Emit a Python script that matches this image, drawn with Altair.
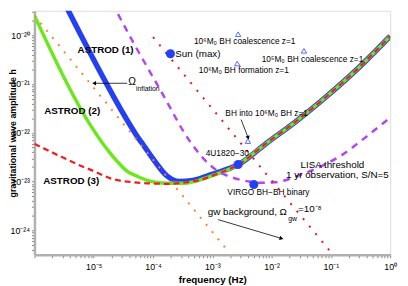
import altair as alt
import pandas as pd

# ---------------- data (log10 f [Hz], log10 h) ----------------
astrod1_logf = [-5.495, -4.353, -4.270, -4.187, -3.988, -3.773, -3.558, -3.326, -3.065, -2.813,
                -2.565, -2.084, -1.571, -1.124, -0.545, 0.0]
astrod1_logh = [-19.337, -21.91, -22.07, -22.21, -22.553, -22.874, -22.995, -22.975, -22.874, -22.774,
                -22.653, -22.211, -21.749, -21.307, -20.683, -20.02]

astrod2_logf = [-6.0, -5.0, -4.767, -4.601, -4.435, -4.270, -4.055, -3.773, -3.492, -3.230, -2.945,
                -2.565, -2.084, -1.571, -1.124, -0.545, 0.0]
astrod2_logh = [-19.60, -21.95, -22.35, -22.59, -22.79, -22.89, -22.99, -23.035, -23.035, -22.975, -22.854,
                -22.653, -22.211, -21.749, -21.307, -20.683, -20.02]

astrod3_logf = [-6.0, -5.545, -5.263, -4.982, -4.717, -4.320, -4.104, -3.773, -3.442, -3.230, -2.945,
                -2.565, -2.084, -1.571, -1.124, -0.545, 0.0]
astrod3_logh = [-22.227, -22.492, -22.653, -22.794, -22.935, -23.015, -23.035, -23.045, -23.015, -22.975, -22.854,
                -22.653, -22.211, -21.749, -21.307, -20.683, -20.02]

lisa_logf = [-4.692, -4.336, -3.856, -3.392, -3.161, -2.945, -2.664, -2.399, -2.167, -1.952, -1.538,
             -1.141, -0.810, -0.478, 0.0]
lisa_logh = [-19.337, -20.141, -21.166, -22.151, -22.513, -22.754, -22.915, -22.995, -23.025, -23.015, -22.874,
             -22.673, -22.452, -22.151, -21.688]

inflation_logf = [-6.0, -2.71]
inflation_logh = [-19.60, -24.46]

gwbg_logf = [-4.0, -0.99]
gwbg_logh = [-20.04, -24.46]

source_names = ["Sun (max)", "4U1820-30", "VIRGO BH-BH binary"]
source_logf = [-3.707, -2.565, -2.30]
source_logh = [-20.38, -22.65, -23.06]

bh_names = ["1e6 coalescence", "1e5 coalescence", "1e6 formation", "BH into 1e6"]
bh_logf = [-2.565, -1.455, -2.58, -2.40]
bh_logh = [-19.98, -20.32, -20.58, -22.17]

x_tick_exps = [-5, -4, -3, -2, -1, 0]
x_tick_labels = ["10⁻⁵", "10⁻⁴", "10⁻³", "10⁻²", "10⁻¹", "10⁰"]
y_tick_exps = [-24, -23, -22, -21, -20]
y_tick_labels = ["10⁻²⁴", "10⁻²³", "10⁻²²", "10⁻²¹", "10⁻²⁰"]

# annotations: text, log f, log h, font size, weight, align
ann_text = ["ASTROD (1)", "ASTROD (2)", "ASTROD (3)",
            "Ω", "inflation", "Sun (max)",
            "10⁶M₀ BH coalescence z=1", "10⁵M₀ BH coalescence z=1", "10⁶M₀ BH formation z=1",
            "BH into 10⁶M₀ BH z=1", "4U1820−30", "VIRGO BH−BH binary",
            "LISA threshold", "1 yr observation, S/N=5",
            "gw background, Ω", "gw", "=10⁻⁸"]
ann_logf = [-4.80, -5.363, -5.379,
            -4.419, -4.287, -3.624,
            -3.310, -2.167, -3.227,
            -2.780, -2.747, -2.747,
            -0.975, -0.890,
            -3.078, -1.720, -1.555]
ann_logh = [-20.30, -21.548, -22.995,
            -20.965, -21.106, -20.382,
            -20.12, -20.482, -20.724,
            -21.588, -22.412, -23.216,
            -22.653, -22.874,
            -23.618, -23.759, -23.558]
ann_size = [10, 10, 10, 10.5, 7, 10, 8.5, 8.5, 8.5, 8.5, 8.5, 8.5, 10, 10, 10, 7, 10]
ann_bold = [True, True, True] + [False] * 14
ann_center = [True, True, True, False, False, False, False, False, False,
              False, True, False, True, True, False, False, False]

# arrows: start -> tip (log f, log h), head angle
arrow_logf = [-4.435, -2.515, -2.904]
arrow_logh = [-20.985, -21.729, -23.779]
arrow_tip_logf = [-4.982, -2.399, -1.844]
arrow_tip_logh = [-20.985, -22.09, -24.161]
arrow_angle = [270, 159, 106]

# ---------------- build ----------------
def frame(lf, lh):
    return pd.DataFrame({"f": [10 ** u for u in lf], "h": [10 ** v for v in lh]})

XS = alt.Scale(type="log", domain=[1e-6, 1.0])
YS = alt.Scale(type="log", domain=[10 ** -24.5, 10 ** -19.5])


def label_expr(exps, labels):
    s = ""
    for e, lab in zip(exps, labels):
        s += f"abs(log(datum.value)/LN10 - ({e})) < 0.01 ? '{lab}' : "
    return s + "''"


x_vals = [10.0 ** -6] + [k * 10.0 ** e for e in range(-6, 0) for k in range(2, 10)] + [10.0 ** e for e in x_tick_exps]
y_vals = [k * 10.0 ** e for e in range(-25, -19) for k in range(1, 10)
          if 10 ** -24.5 <= k * 10.0 ** e <= 10 ** -19.5]

x_axis = alt.Axis(values=x_vals, labelExpr=label_expr(x_tick_exps, x_tick_labels), grid=False,
                  tickSize=3, tickColor="#666", tickWidth=0.8, domainColor="#b0b0b0", domainWidth=2.5,
                  labelFontSize=9, labelColor="black", labelPadding=5, labelOverlap=False, labelFlush=False,
                  title="frequency (Hz)", titleFontSize=10, titleFontWeight="bold", titleColor="black",
                  titlePadding=3)
y_axis = alt.Axis(values=y_vals, labelExpr=label_expr(y_tick_exps, y_tick_labels), grid=False,
                  tickSize=3, tickColor="#666", tickWidth=0.8, domainColor="#b0b0b0", domainWidth=2.5,
                  labelFontSize=9, labelColor="black", labelPadding=2, labelOverlap=False, labelFlush=False,
                  title="gravitational wave amplitude h", titleFontSize=9, titleFontWeight="bold",
                  titleColor="black", titleX=-19.5, titleY=124.5, titleBaseline="alphabetic")


def enc(xf="f", yf="h"):
    return dict(x=alt.X(f"{xf}:Q", scale=XS, axis=x_axis),
                y=alt.Y(f"{yf}:Q", scale=YS, axis=y_axis))


def line(lf, lh, color, width, dash=None, interp="monotone"):
    kw = dict(color=color, strokeWidth=width, clip=True, interpolate=interp)
    if dash:
        kw["strokeDash"] = dash
    return alt.Chart(frame(lf, lh)).mark_line(**kw).encode(**enc())


blue = "#2440f2"
layers = [
    line(astrod1_logf, astrod1_logh, blue, 5.5),
    line(astrod2_logf, astrod2_logh, "#6ae81c", 3.5),
    line(astrod3_logf, astrod3_logh, "#f02020", 2.3, dash=[6, 4]),
    line(lisa_logf, lisa_logh, "#b444f2", 2.5, dash=[7, 6]),
    line(inflation_logf, inflation_logh, "#ff7f2a", 2, dash=[2, 7.5], interp="linear"),
    line(gwbg_logf, gwbg_logh, "#ee1111", 2, dash=[2, 8], interp="linear"),
]

# annotation texts (one layer per label)
for t, u, v, sz, b, c in zip(ann_text, ann_logf, ann_logh, ann_size, ann_bold, ann_center):
    d = pd.DataFrame({"f": [10 ** u], "h": [10 ** v], "label": [t]})
    layers.append(alt.Chart(d).mark_text(align="center" if c else "left", baseline="middle",
                                         fontWeight="bold" if b else "normal",
                                         fontSize=sz, color="black")
                  .encode(**enc(), text="label:N"))

# arrow heads
for u, v, a in zip(arrow_tip_logf, arrow_tip_logh, arrow_angle):
    d = pd.DataFrame({"f": [10 ** u], "h": [10 ** v]})
    layers.append(alt.Chart(d).mark_point(shape="triangle", filled=True, color="black",
                                          size=20, opacity=1, angle=a).encode(**enc()))

src = frame(source_logf, source_logh)
layers.append(alt.Chart(src).mark_circle(size=85, color=blue, opacity=1).encode(**enc()))

bh = frame(bh_logf, bh_logh)
layers.append(alt.Chart(bh).mark_point(shape="triangle-up", filled=False, color="#3a5cff",
                                       size=30, strokeWidth=0.9, opacity=1).encode(**enc()))

arr = pd.DataFrame({"f": [10 ** u for u in arrow_logf], "h": [10 ** v for v in arrow_logh],
                    "f2": [10 ** u for u in arrow_tip_logf], "h2": [10 ** v for v in arrow_tip_logh]})
layers.append(alt.Chart(arr).mark_rule(color="black", strokeWidth=0.8).encode(
    **enc(), x2="f2:Q", y2="h2:Q"))

chart = alt.layer(*layers).properties(
    width=363, height=249,
    autosize=alt.AutoSizeParams(type="none"),
    padding={"left": 27, "top": 0, "right": 10, "bottom": 30},
).configure_view(stroke=None).configure(font="Liberation Sans")

chart.save("out.html", embed_options={"renderer": "svg", "actions": False})
